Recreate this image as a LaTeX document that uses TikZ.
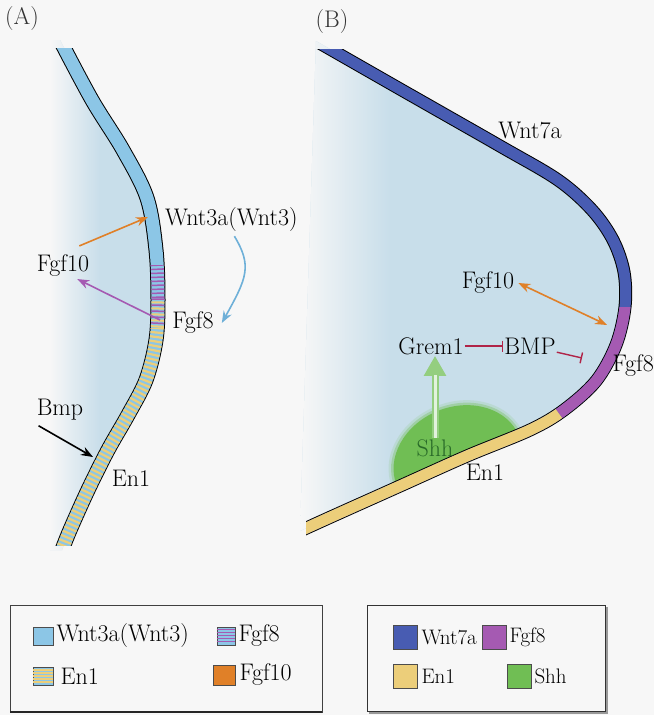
\documentclass[tikz,border=0pt]{standalone}
\usetikzlibrary{positioning,arrows.meta}

\definecolor{paper}{RGB}{247,247,247}
\definecolor{mesen}{RGB}{200,222,234}
\definecolor{wntlight}{RGB}{140,198,230}
\definecolor{wntdark}{RGB}{72,92,178}
\definecolor{fgfpurple}{RGB}{165,90,178}
\definecolor{enyellow}{RGB}{236,206,122}
\definecolor{shhgreen}{RGB}{112,190,84}
\definecolor{shhtext}{RGB}{40,105,40}
\definecolor{fgforange}{RGB}{224,128,40}
\definecolor{inhred}{RGB}{176,36,72}
\definecolor{curveblue}{RGB}{110,176,216}

\newcommand\ectoA{plot[smooth,tension=0.55] coordinates {(60,40) (92,100) (123,150) (147,198) (156,250) (158,300) (156,340) (146,380) (128,415) (108,450) (88,490) (70,530) (62,550)}}
\newcommand\ectoB{plot[smooth,tension=0.55] coordinates {(316,41) (400,89) (500,146) (558,180) (592,210) (613,240) (624,272) (625,307) (616,345) (596,381) (564,410) (530,430) (467,456) (400,486) (333,516) (300,531)}}

\begin{document}
\begin{tikzpicture}[x=1pt, y=-1pt,
	lbl/.style={font=\fontsize{24}{28}\selectfont, inner sep=1pt},
	key/.style={font=\fontsize{21}{25}\selectfont, inner sep=1pt},
	sig/.style={line width=1.6pt, -{Stealth[length=12pt,width=9pt]}},
	inh/.style={draw=inhred, line width=1.4pt, -{Bar[width=11pt,line width=1.4pt]}},
	swatch/.style={draw=black!70, line width=0.6pt, inner sep=0pt},
	]

	\useasboundingbox (0,0) rectangle (654,715);
	\fill[paper] (0,0) rectangle (654,715);

	\fill[mesen] \ectoA -- (50,550) -- (50,40) -- cycle;
	\begin{scope}
		\clip \ectoA -- (50,550) -- (50,40) -- cycle;
		\shade[left color=paper, right color=mesen] (50,40) rectangle (100,550);
	\end{scope}

	\fill[mesen] \ectoB -- cycle;
	\begin{scope}
		\clip \ectoB -- cycle;
		\shade[left color=paper, right color=mesen] (300,30) rectangle (390,540);
	\end{scope}

	\begin{scope}
		\clip[rotate around={22:(458,461)}] (370,461) rectangle (546,385);
		\foreach \r/\o in {5/0.15, 2.5/0.35}
			\fill[shhgreen, opacity=\o, rotate around={22:(458,461)}] (458,461) ellipse ({66+\r} and {54+\r});
		\fill[shhgreen, rotate around={22:(458,461)}] (458,461) ellipse (66 and 54);
	\end{scope}

	\begin{scope}
		\clip (0,48) rectangle (330,545);
		\draw[line width=15pt] \ectoA;
		\draw[wntlight, line width=13pt] \ectoA;
		\begin{scope}
			\clip (0,265) rectangle (330,298);
			\draw[fgfpurple, line width=13pt, dash pattern=on 1.5pt off 2.5pt] \ectoA;
		\end{scope}
		\begin{scope}
			\clip (0,298) rectangle (330,328);
			\draw[fgfpurple, line width=13pt, dash pattern=on 1.5pt off 4.5pt] \ectoA;
			\draw[enyellow, line width=13pt, dash pattern=on 2pt off 4pt, dash phase=3pt] \ectoA;
		\end{scope}
		\begin{scope}
			\clip (0,328) rectangle (330,545);
			\draw[enyellow, line width=13pt, dash pattern=on 2.2pt off 2.3pt] \ectoA;
		\end{scope}
	\end{scope}

	\begin{scope}
		\clip (306,49) rectangle (660,715);
		\draw[line width=13pt] \ectoB;
		\draw[wntdark, line width=11pt] \ectoB;
		\begin{scope}
			\clip (481,307) -- (660,307) -- (660,551) -- cycle;
			\draw[fgfpurple, line width=11pt] \ectoB;
		\end{scope}
		\begin{scope}
			\clip (0,334) -- (501,334) -- (619,496) -- (619,715) -- (0,715) -- cycle;
			\draw[enyellow, line width=11pt] \ectoB;
		\end{scope}
	\end{scope}

	\node[lbl, text=black!80] (tagA) at (22,19) {(A)};
	\node[lbl, anchor=west] (wntA) at (164,220) {Wnt3a(Wnt3)};
	\node[lbl] (fgftenA) at (63,266) {Fgf10};
	\node[lbl] (fgfeightA) at (193,323) {Fgf8};
	\node[lbl] (bmpA) at (60,410) {Bmp};
	\node[lbl] (enA) at (131,478) {En1};
	\coordinate (wntbandA) at (148,217);
	\coordinate (fgfbandA) at (160,320);
	\coordinate (enbandA) at (93,457);

	\draw[sig, fgforange] ([xshift=-11pt,yshift=8pt]fgftenA.north east) -- (wntbandA);
	\draw[sig, fgfpurple] (fgfbandA) -- ([xshift=-13pt,yshift=-1pt]fgftenA.south east);
	\draw[sig, curveblue] ([xshift=3pt,yshift=-3pt]wntA.south) .. controls +(18,30) and +(25,-45) .. ([xshift=7pt]fgfeightA.east);
	\draw[sig, black] ([xshift=3pt,yshift=-4pt]bmpA.south west) -- (enbandA);

	\node[lbl, text=black!80] (tagB) at (332,22) {(B)};
	\node[lbl] (wntB) at (530,130) {Wnt7a};
	\node[lbl] (fgftenB) at (488,283) {Fgf10};
	\node[lbl] (gremB) at (431,346) {Grem1};
	\node[lbl] (bmpB) at (530,346) {BMP};
	\node[lbl, anchor=east] (fgfeightB) at (655,366) {Fgf8};
	\node[lbl, text=shhtext] (shhB) at (435,448) {Shh};
	\node[lbl] (enB) at (485,472) {En1};
	\coordinate (fgfbandB) at (607,325);
	\coordinate (bmpbandB) at (582,358);

	\draw[fgforange, line width=1.6pt, {Stealth[length=12pt,width=9pt]}-{Stealth[length=12pt,width=9pt]}] ([xshift=3pt]fgftenB.east) -- (fgfbandB);
	\draw[inh] (gremB) -- (bmpB);
	\draw[inh] (bmpB) -- (bmpbandB);
	\draw[shhgreen!75!white, line width=7pt, -{Triangle[length=20pt,width=21pt]}] (shhB.north) -- (shhB.north |- gremB.south);
	\draw[white!80!shhgreen, line width=3pt, shorten >=19pt] (shhB.north) -- (shhB.north |- gremB.south);

	\draw[black!75, line width=1pt] (10,605) rectangle (322,712);
	\draw[black!85, line width=2.5pt] (10,712) -- (322,712);
	\node[swatch, fill=wntlight, minimum width=20pt, minimum height=18pt] (swWntA) at (43,636) {};
	\node[lbl, right=2pt of swWntA] (keyWntA) {Wnt3a(Wnt3)};
	\node[swatch, fill=wntlight, minimum width=18pt, minimum height=18pt] (swFgfA) at (226,636) {};
	\foreach \k in {1,...,5}
		\draw[fgfpurple, line width=1.3pt] ([yshift=-3pt*\k]swFgfA.north west) -- ([yshift=-3pt*\k]swFgfA.north east);
	\node[lbl, right=2pt of swFgfA] (keyFgfA) {Fgf8};
	\node[swatch, fill=wntlight, minimum width=20pt, minimum height=18pt] (swEnA) at (43,676) {};
	\foreach \k in {1,...,5}
		\draw[enyellow, line width=1.6pt] ([yshift=-3pt*\k]swEnA.north west) -- ([yshift=-3pt*\k]swEnA.north east);
	\node[lbl, right=6pt of swEnA] (keyEnA) {En1};
	\node[swatch, fill=fgforange, minimum width=22pt, minimum height=20pt] (swFgftenA) at (224,675) {};
	\node[lbl, right=3pt of swFgftenA] (keyFgftenA) {Fgf10};

	\draw[black!40, line width=2pt] (369,713) -- (607,713) -- (607,607);
	\draw[black!80, line width=0.9pt, fill=paper] (367,605) rectangle (605,711);
	\node[swatch, fill=wntdark, minimum size=24pt] (swWntB) at (405,637) {};
	\node[key, right=3pt of swWntB] (keyWntB) {Wnt7a};
	\node[swatch, fill=fgfpurple, minimum size=24pt] (swFgfB) at (494,637) {};
	\node[key, right=2pt of swFgfB] (keyFgfB) {Fgf8};
	\node[swatch, fill=enyellow, minimum size=24pt] (swEnB) at (405,676) {};
	\node[key, right=3pt of swEnB] (keyEnB) {En1};
	\node[swatch, fill=shhgreen, minimum size=24pt] (swShhB) at (519,676) {};
	\node[key, right=2pt of swShhB] (keyShhB) {Shh};

\end{tikzpicture}
\end{document}
